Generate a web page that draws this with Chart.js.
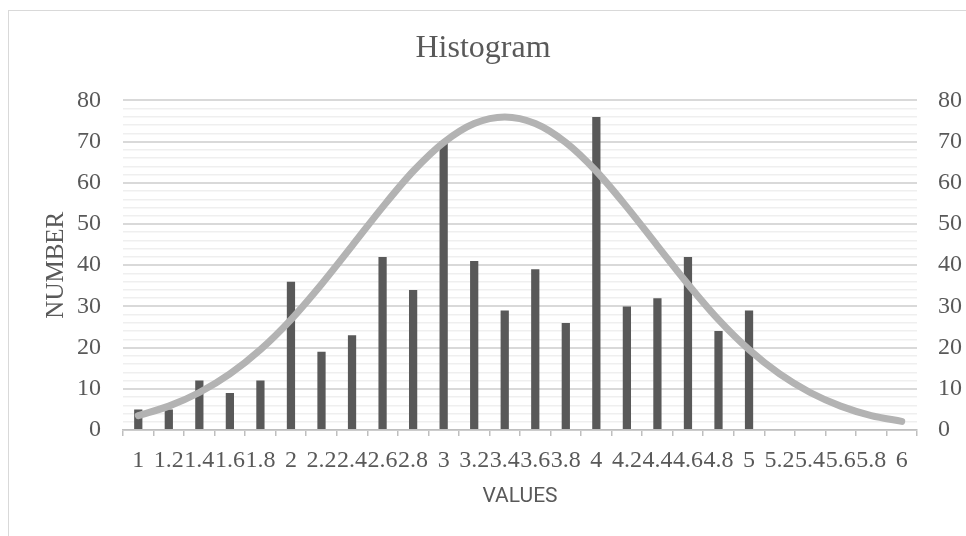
<!DOCTYPE html>
<html>
<head>
<meta charset="utf-8">
<script src="https://cdn.jsdelivr.net/npm/chart.js@4/dist/chart.umd.min.js"></script>
<style>
  html, body { margin: 0; padding: 0; background: #fff; }
  #frame { position: absolute; left: 8px; top: 10px; width: 980px; height: 560px; border: 1px solid #d9d9d9; }
  #wrap { position: absolute; left: 0; top: 0; width: 966px; height: 536px; }
</style>
</head>
<body>
<div id="frame"></div>
<div id="wrap"><canvas id="histChart" width="966" height="536"></canvas></div>
<script>
const categories = ['1', '1.2', '1.4', '1.6', '1.8', '2', '2.2', '2.4', '2.6', '2.8', '3', '3.2', '3.4',
  '3.6', '3.8', '4', '4.2', '4.4', '4.6', '4.8', '5', '5.2', '5.4', '5.6', '5.8', '6']
const counts = [5, 5, 12, 9, 12, 36, 19, 23, 42, 34, 70, 41, 29,
  39, 26, 76, 30, 32, 42, 24, 29, null, null, null, null, null]
const curve = [3.5, 5.8, 9.1, 13.6, 19.5, 26.8, 35.4, 44.7, 54.1, 62.8, 69.8, 74.4, 76,
  74.4, 69.8, 62.8, 54.1, 44.7, 35.4, 26.8, 19.5, 13.6, 9.1, 5.8, 3.5, 2.1]
const yMax = 80

const textColor = '#595959'
const serif = 'Liberation Serif'

const ctx = document.getElementById('histChart')

new Chart(ctx, {
  type: 'bar',
  data: {
    labels: categories,
    datasets: [
      {
        type: 'line',
        label: 'Normal',
        data: curve,
        borderColor: '#b3b3b3',
        borderWidth: 7,
        borderCapStyle: 'round',
        pointRadius: 0,
        cubicInterpolationMode: 'monotone',
        order: 0
      },
      {
        label: 'Number',
        data: counts,
        backgroundColor: '#595959',
        categoryPercentage: 1,
        barPercentage: 0.27,
        order: 1
      }
    ]
  },
  options: {
    responsive: false,
    animation: false,
    layout: { padding: 0 },
    plugins: {
      legend: { display: false },
      tooltip: { enabled: false },
      title: {
        display: true,
        text: 'Histogram',
        color: textColor,
        font: { family: serif, size: 32, weight: 'normal' },
        padding: { top: 29, bottom: 33 }
      }
    },
    scales: {
      x: {
        grid: { offset: true, drawOnChartArea: false, drawTicks: true, tickLength: 6, color: '#bfbfbf', lineWidth: 1.5 },
        border: { color: '#bfbfbf', width: 1.5 },
        ticks: {
          autoSkip: false, maxRotation: 0, minRotation: 0, padding: 10,
          color: textColor, font: { family: serif, size: 24 }
        },
        title: {
          display: true,
          text: 'VALUES',
          color: textColor,
          font: { family: 'Liberation Sans Narrow, Roboto, sans-serif', size: 21 },
          padding: { top: 0, bottom: 27 }
        },
        afterFit(scale) { scale.height = 106 }
      },
      y: {
        position: 'left',
        min: 0,
        max: yMax,
        border: { display: false },
        grid: {
          drawTicks: false,
          color: c => (c.tick.value % 10 === 0 ? '#d9d9d9' : '#efefef'),
          lineWidth: c => (c.tick.value % 10 === 0 ? 2 : 1.5)
        },
        ticks: {
          stepSize: 2, autoSkip: false, padding: 22,
          color: textColor, font: { family: serif, size: 24 },
          callback: v => (v % 10 === 0 ? v : '')
        },
        title: {
          display: true,
          text: 'NUMBER',
          color: textColor,
          font: { family: serif, size: 25 },
          padding: { top: 41, bottom: 0 }
        },
        afterFit(scale) { scale.width = 123 }
      },
      y2: {
        position: 'right',
        min: 0,
        max: yMax,
        border: { display: false },
        grid: { display: false, drawTicks: false },
        ticks: {
          stepSize: 2, autoSkip: false, padding: 21,
          color: textColor, font: { family: serif, size: 24 },
          callback: v => (v % 10 === 0 ? v : '')
        },
        afterFit(scale) { scale.width = 49 }
      }
    }
  }
})
</script>
</body>
</html>
